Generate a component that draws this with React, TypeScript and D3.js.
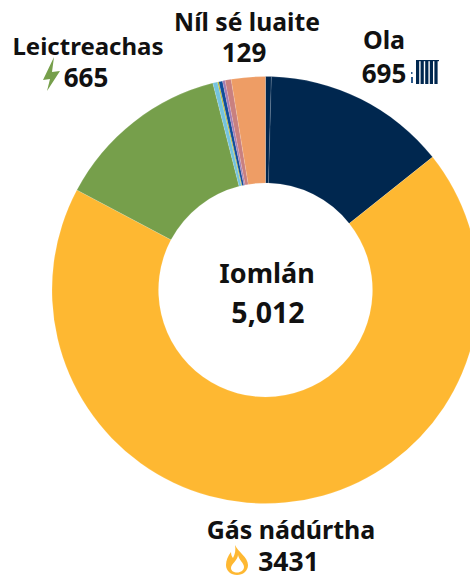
import React from "react";
import * as d3 from "d3";

const sliceNames = ["Ola (eile)", "Ola", "Gás nádúrtha", "Leictreachas", "Eile 1", "Eile 2", "Eile 3", "Eile 4", "Eile 5", "Níl sé luaite"];
const sliceValues = [22, 695, 3431, 665, 18, 5, 14, 10, 23, 129];
const sliceColors = ["#00274f", "#00274f", "#feb832", "#769f4b", "#74c3de", "#b5b624", "#0f4c9a", "#a57bb0", "#c9807f", "#ee9d65"];

const width = 470;
const height = 577;
const cx = 265.5;
const cy = 290;
const outer = 213.5;
const inner = 107;
const font = "'Noto Sans', 'Open Sans', sans-serif";

const barrelXs = d3.range(416, 439, 4.6);

export default function App() {
  const pie = d3.pie<number>().sort(null).value((d) => d)(sliceValues);
  const arc = d3.arc<d3.PieArcDatum<number>>().innerRadius(inner).outerRadius(outer);
  const label = (x: number, y: number, t: string, size = 24, anchor = "middle") => (
    <text x={x} y={y} textAnchor={anchor} fontFamily={font} fontWeight={700} fontSize={size} fill="#111">{t}</text>
  );
  return (
    <svg width={width} height={height} style={{ position: "absolute", left: 0, top: 0 }}>
      <g transform={`translate(${cx},${cy})`}>
        {pie.map((d, i) => (
          <path key={sliceNames[i]} d={arc(d) ?? ""} fill={sliceColors[i]} stroke="#fff" strokeOpacity={0.25} strokeWidth={0.5} />
        ))}
      </g>
      {label(267, 283, "Iomlán", 27)}
      {label(268, 323, "5,012", 28.5)}
      {label(247, 31, "Níl sé luaite", 24.7)}
      {label(244, 62, "129", 26)}
      {label(384, 49, "Ola", 25)}
      {label(384, 83, "695", 26)}
      {label(88, 55, "Leictreachas", 24)}
      {label(86, 87, "665", 26)}
      {label(291, 539, "Gás nádúrtha", 25)}
      {label(288.5, 571, "3431", 26.5)}
      <path d="M54,57 L43,80 L50,79 L47,91 L60,71 L52,72 Z" fill="#769f4b" />
      <path d="M235,545 C238,552 248,557 248,565 C248,571 243,575 237,575 C231,575 226,571 226,565 C226,560 228,556 231,552 C231,555 232,557 233,558 C235,554 236,550 235,545 Z M238,555 C238,560 231,564 231,568 C231,571 234,572.5 237,572.5 C241,572.5 244,570 244,567 C244,563 239,560 238,555 Z" fill="#feb832" fillRule="evenodd" />
      {barrelXs.map((x) => (
        <rect key={x} x={x} y={61} width={3.2} height={23} fill="#00274f" />
      ))}
      <rect x={416} y={60} width={23} height={1.2} fill="#00274f" />
      <rect x={411} y={72} width={1.5} height={2} fill="#2d5a8c" />
      <rect x={411} y={77} width={2} height={6} fill="#2d5a8c" />
    </svg>
  );
}
